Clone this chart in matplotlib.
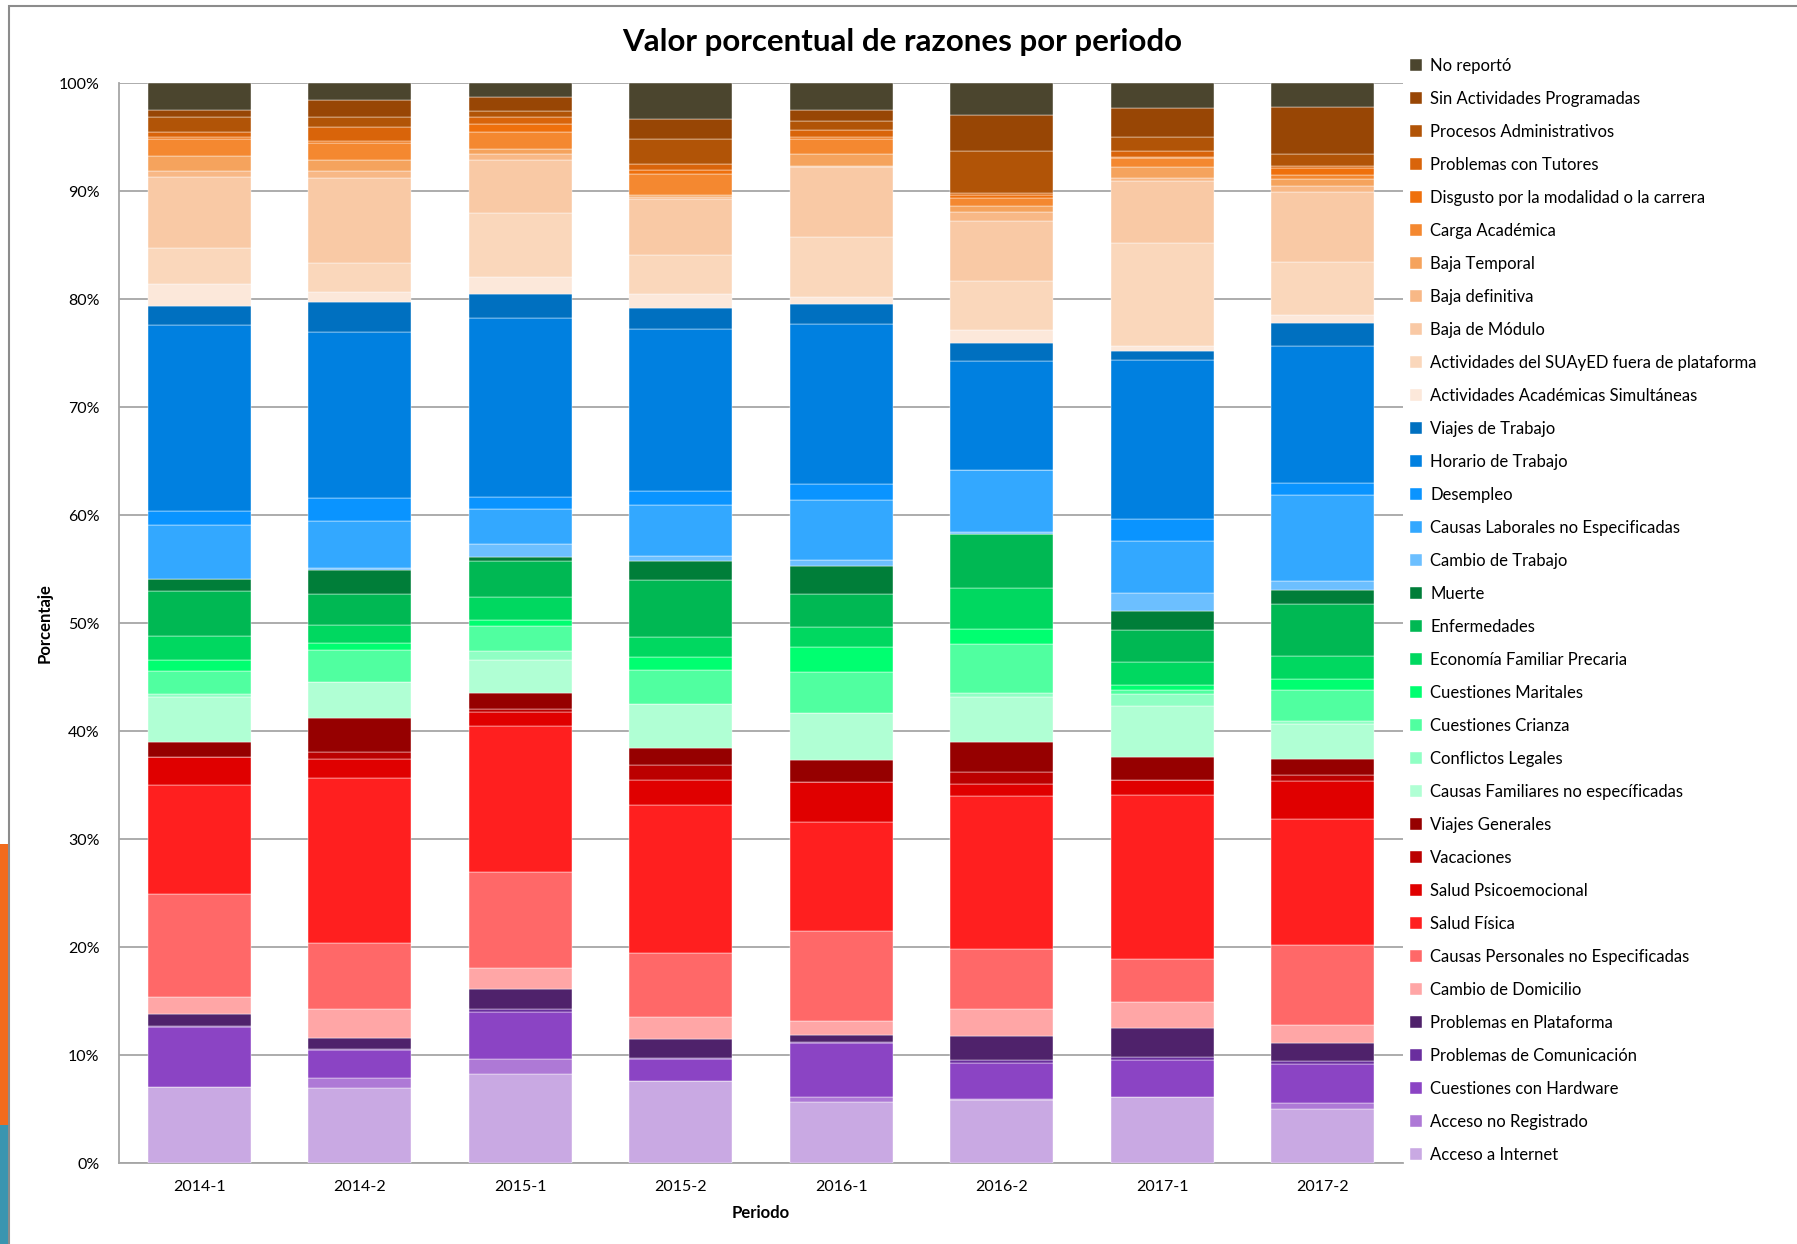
import matplotlib
matplotlib.use('Agg')
import matplotlib.pyplot as plt
import numpy as np
from matplotlib.patches import Rectangle

plt.rcParams['font.family'] = ['Lato', 'DejaVu Sans']

periodos = ['2014-1', '2014-2', '2015-1', '2015-2', '2016-1', '2016-2', '2017-1', '2017-2']

# porcentajes por razon (de abajo hacia arriba en la pila)
acceso_internet = [7.1, 7.0, 8.25, 7.63, 5.66, 5.85, 6.09, 5.05]
acceso_no_reg = [0, 0.88, 1.41, 0, 0.43, 0.1, 0, 0.52]
hardware = [5.55, 2.58, 4.31, 2.03, 5.02, 3.37, 3.48, 3.6]
comunicacion = [0.1, 0.14, 0.31, 0.09, 0.12, 0.25, 0.25, 0.28]
plataforma = [1.05, 1.0, 1.84, 1.73, 0.65, 2.18, 2.7, 1.66]
domicilio = [1.55, 2.7, 1.94, 2.06, 1.29, 2.56, 2.43, 1.66]
causas_pers = [9.55, 6.07, 8.89, 5.94, 8.37, 5.57, 4.0, 7.48]
salud_fisica = [10.1, 15.28, 13.51, 13.7, 10.06, 14.1, 15.12, 11.6]
salud_psico = [2.6, 1.82, 1.34, 2.34, 3.68, 1.17, 1.45, 3.52]
vacaciones = [0, 0.63, 0.24, 1.33, 0, 1.05, 0, 0.56]
viajes_gen = [1.4, 3.1, 1.51, 1.61, 2.1, 2.84, 2.07, 1.54]
causas_fam = [4.2, 3.4, 3.09, 4.04, 4.35, 4.11, 4.79, 3.21]
conflictos = [0.3, 0, 0.76, 0, 0, 0.37, 1.05, 0.25]
crianza = [2.1, 2.96, 2.35, 3.21, 3.73, 4.54, 0.37, 2.87]
maritales = [1.0, 0.62, 0.53, 1.17, 2.35, 1.42, 0.52, 1.01]
economia = [2.2, 1.7, 2.19, 1.82, 1.82, 3.76, 2.07, 2.2]
enfermedades = [4.2, 2.84, 3.33, 5.31, 3.09, 5.0, 2.96, 4.78]
muerte = [1.1, 2.18, 0.37, 1.76, 2.59, 0, 1.82, 1.27]
cambio_trab = [0, 0.22, 1.18, 0.43, 0.52, 0.19, 1.67, 0.83]
causas_lab = [5.0, 4.32, 3.24, 4.79, 5.56, 5.8, 4.78, 7.99]
desempleo = [1.3, 2.2, 1.14, 1.26, 1.54, 0, 2.07, 1.14]
horario = [17.25, 15.36, 16.57, 15.0, 14.76, 10.06, 14.72, 12.69]
viajes_trab = [1.7, 2.72, 2.22, 1.98, 1.91, 1.7, 0.81, 2.07]
act_acad = [2.05, 0.93, 1.55, 1.29, 0.62, 1.17, 0.49, 0.77]
suayed = [3.35, 2.71, 5.93, 3.62, 5.58, 4.51, 9.48, 4.91]
baja_mod = [6.55, 7.84, 4.93, 5.15, 6.5, 5.55, 5.8, 6.48]
baja_def = [0.6, 0.68, 0.5, 0.2, 0.08, 0.9, 0.28, 0.52]
baja_temp = [1.4, 1.02, 0.52, 0.17, 1.05, 0.52, 0.98, 0.65]
carga = [1.55, 1.6, 1.55, 1.94, 1.45, 0.77, 0.84, 0.4]
disgusto = [0.21, 0.2, 0.77, 0.37, 0.18, 0.22, 0.11, 0.69]
tutores = [0.44, 1.3, 0.63, 0.56, 0.59, 0.18, 0.5, 0.15]
procesos = [1.4, 0.9, 0.54, 2.32, 0.86, 3.89, 1.33, 1.08]
sin_act = [0.66, 1.6, 1.29, 1.82, 1.05, 3.37, 2.69, 4.41]
no_reporto = [2.44, 1.5, 1.27, 3.33, 2.44, 2.93, 2.28, 2.16]

series = [
    ('Acceso a Internet', acceso_internet, '#c9a9e3'),
    ('Acceso no Registrado', acceso_no_reg, '#ae79d6'),
    ('Cuestiones con Hardware', hardware, '#8b44c4'),
    ('Problemas de Comunicación', comunicacion, '#6a2e9e'),
    ('Problemas en Plataforma', plataforma, '#4f226b'),
    ('Cambio de Domicilio', domicilio, '#ffa6a6'),
    ('Causas Personales no Especificadas', causas_pers, '#ff6868'),
    ('Salud Física', salud_fisica, '#ff1f1f'),
    ('Salud Psicoemocional', salud_psico, '#e00000'),
    ('Vacaciones', vacaciones, '#bb0000'),
    ('Viajes Generales', viajes_gen, '#960000'),
    ('Causas Familiares no específicadas', causas_fam, '#b0ffd4'),
    ('Conflictos Legales', conflictos, '#90ffc4'),
    ('Cuestiones Crianza', crianza, '#50ffa0'),
    ('Cuestiones Maritales', maritales, '#00ff70'),
    ('Economía Familiar Precaria', economia, '#00d860'),
    ('Enfermedades', enfermedades, '#00b853'),
    ('Muerte', muerte, '#007e39'),
    ('Cambio de Trabajo', cambio_trab, '#6cbfff'),
    ('Causas Laborales no Especificadas', causas_lab, '#33a8ff'),
    ('Desempleo', desempleo, '#0a94ff'),
    ('Horario de Trabajo', horario, '#0080e0'),
    ('Viajes de Trabajo', viajes_trab, '#0070c0'),
    ('Actividades Académicas Simultáneas', act_acad, '#fce8da'),
    ('Actividades del SUAyED fuera de plataforma', suayed, '#fad7bb'),
    ('Baja de Módulo', baja_mod, '#f9c9a5'),
    ('Baja definitiva', baja_def, '#f8b886'),
    ('Baja Temporal', baja_temp, '#f5a35d'),
    ('Carga Académica', carga, '#f48830'),
    ('Disgusto por la modalidad o la carrera', disgusto, '#ef700c'),
    ('Problemas con Tutores', tutores, '#d9640a'),
    ('Procesos Administrativos', procesos, '#b15407'),
    ('Sin Actividades Programadas', sin_act, '#984605'),
    ('No reportó', no_reporto, '#4b452e'),
]

fig = plt.figure(figsize=(17.97, 12.44), dpi=100)
ax = fig.add_axes([0.0662, 0.0649, 0.7145, 0.8681])

x = np.arange(len(periodos))
bottom = np.zeros(len(periodos))
for name, vals, col in series:
    vals = np.array(vals, dtype=float)
    ax.bar(x, vals, bottom=bottom, width=0.64, color=col, label=name,
           edgecolor='white', linewidth=0.3, zorder=3)
    bottom += vals

ax.set_xlim(-0.5, 7.5)
ax.set_ylim(0, 100)
ax.set_yticks(np.arange(0, 101, 10))
ax.set_yticklabels([f'{v}%' for v in range(0, 101, 10)], fontsize=11.5)
ax.set_xticks(x)
ax.set_xticklabels(periodos, fontsize=11.5)
ax.tick_params(axis='x', length=0, pad=12)
ax.tick_params(axis='y', length=0, pad=14)
ax.yaxis.grid(True, color='#a6a6a6', linewidth=1.3, zorder=0)
for s in ['top', 'right']:
    ax.spines[s].set_visible(False)
ax.spines['left'].set_color('#a6a6a6')
ax.spines['bottom'].set_color('#a6a6a6')
ax.spines['left'].set_linewidth(1.3)
ax.spines['bottom'].set_linewidth(1.3)

ax.set_xlabel('Periodo', fontsize=12, fontweight='bold', labelpad=8)
ax.set_ylabel('Porcentaje', fontsize=12, fontweight='bold')
ax.yaxis.set_label_coords(-0.052, 0.5)
fig.text(0.502, 0.966, 'Valor porcentual de razones por periodo', ha='center', va='center',
         fontsize=22.5, fontweight='bold')

handles, labels = ax.get_legend_handles_labels()
leg = fig.legend(handles[::-1], labels[::-1], loc='upper left', bbox_to_anchor=(0.781, 0.959),
                 frameon=False, fontsize=12, handlelength=0.7, handleheight=0.7,
                 handletextpad=0.5, labelspacing=1.02, borderaxespad=0)

# marco y franja lateral de la diapositiva
fig.add_artist(Rectangle((9 / 1797, -0.1), 1.2, 1.1 - 6 / 1244, transform=fig.transFigure,
                         fill=False, edgecolor='#8c8c8c', linewidth=1.5))
fig.add_artist(Rectangle((0, 119 / 1244), 8 / 1797, (1125 - 844) / 1244, transform=fig.transFigure,
                         facecolor='#f26b1d', edgecolor='none'))
fig.add_artist(Rectangle((0, 0), 8 / 1797, 119 / 1244, transform=fig.transFigure,
                         facecolor='#3a95b0', edgecolor='none'))

plt.savefig('out.png', dpi=100)
plt.close()
